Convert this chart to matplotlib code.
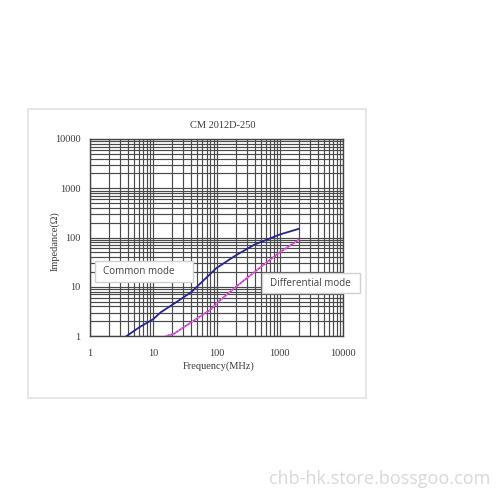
import matplotlib
matplotlib.use("Agg")
import matplotlib.pyplot as plt
from matplotlib.patches import Rectangle
from matplotlib.ticker import LogLocator, NullFormatter, FixedLocator, FixedFormatter

# impedance curves
cm_freq = [3.8, 6, 10, 13, 20, 40, 100, 200, 400, 1000, 2000]
cm_z = [1.0, 1.5, 2.2, 3.0, 4.3, 7.8, 24, 43, 72, 115, 150]

dm_freq = [16, 21, 50, 80, 100, 200, 400, 1000, 2000]
dm_z = [1.0, 1.1, 2.3, 3.4, 4.6, 9.8, 20, 50, 90]

x_ticks = [1, 10, 100, 1000, 10000]
y_ticks = [1, 10, 100, 1000, 10000]
tick_labels = ["1", "10", "100", "1000", "10000"]

title = "CM 2012D-250"
xlabel = "Frequency(MHz)"
ylabel = "Impedance(\u03a9)"
cm_label = "Common mode"
dm_label = "Differential mode"
watermark = "chb-hk.store.bossgoo.com"

W = 500.0
fig = plt.figure(figsize=(5, 5), dpi=100)

def fx(px):
    return px / W

def fy(py):
    return 1 - py / W

# outer light frame around the chart
fig.patches.append(Rectangle((fx(28), fy(398)), fx(338), 289 / W,
                             transform=fig.transFigure, fill=False,
                             edgecolor="#e2e2e2", lw=1.2, zorder=0))

ax = fig.add_axes([fx(90), fy(336), fx(343 - 90), (336 - 139) / W])
ax.set_xscale("log")
ax.set_yscale("log")
ax.set_xlim(1, 10000)
ax.set_ylim(1, 10000)

ax.xaxis.set_major_locator(FixedLocator(x_ticks))
ax.xaxis.set_major_formatter(FixedFormatter(tick_labels))
ax.yaxis.set_major_locator(FixedLocator(y_ticks))
ax.yaxis.set_major_formatter(FixedFormatter(tick_labels))
for a in (ax.xaxis, ax.yaxis):
    a.set_minor_locator(LogLocator(base=10, subs=range(2, 10), numticks=20))
    a.set_minor_formatter(NullFormatter())

ax.grid(True, which="both", color="#4a4a4a", lw=0.85)
ax.set_axisbelow(True)
ax.tick_params(which="both", length=0)
ax.tick_params(axis="x", pad=9)
ax.tick_params(axis="y", pad=7)
for s in ax.spines.values():
    s.set_color("#444444")
    s.set_linewidth(1.0)

serif = ["Liberation Serif", "DejaVu Serif"]
for lab in ax.get_xticklabels() + ax.get_yticklabels():
    lab.set_family(serif)
    lab.set_fontsize(7.5)
    lab.set_color("#3a3a3a")

ax.plot(cm_freq, cm_z, color="#26268a", lw=1.3, zorder=3)
ax.plot(dm_freq, dm_z, color="#c23cc2", lw=1.3, zorder=3)
ax.plot(dm_freq, dm_z, color="#f0a8f0", lw=0.8, ls=(0, (1, 2)), zorder=4)

fig.text(0.5 * (fx(90) + fx(343)) + 0.012, fy(126), title, ha="center", va="center",
         family=serif, fontsize=7.5, color="#3a3a3a")
fig.text(fx(219), fy(366), xlabel, ha="center", va="center",
         family=serif, fontsize=7.5, color="#3a3a3a")
fig.text(fx(55), fy(241), ylabel, ha="center", va="center", rotation=90,
         family=serif, fontsize=7.5, color="#3a3a3a")

# label boxes
for (x0, y0, x1, y1, txt) in [(95, 261, 193, 282, cm_label),
                              (262, 273, 360, 293, dm_label)]:
    fig.patches.append(Rectangle((fx(x0), fy(y1)), fx(x1 - x0), (y1 - y0) / W,
                                 transform=fig.transFigure, facecolor="white",
                                 edgecolor="#d0d0d0", lw=1.0, zorder=5))
    fig.text(fx(x0 + 8), fy(0.5 * (y0 + y1)), txt, ha="left", va="center",
             family=["Open Sans", "DejaVu Sans"], fontsize=7.1, color="#444444",
             zorder=6)

fig.text(fx(490), fy(479), watermark, ha="right", va="center",
         family=["Open Sans", "DejaVu Sans"], fontsize=13, color="#d8d8d8")

fig.savefig("out.png", dpi=100)
